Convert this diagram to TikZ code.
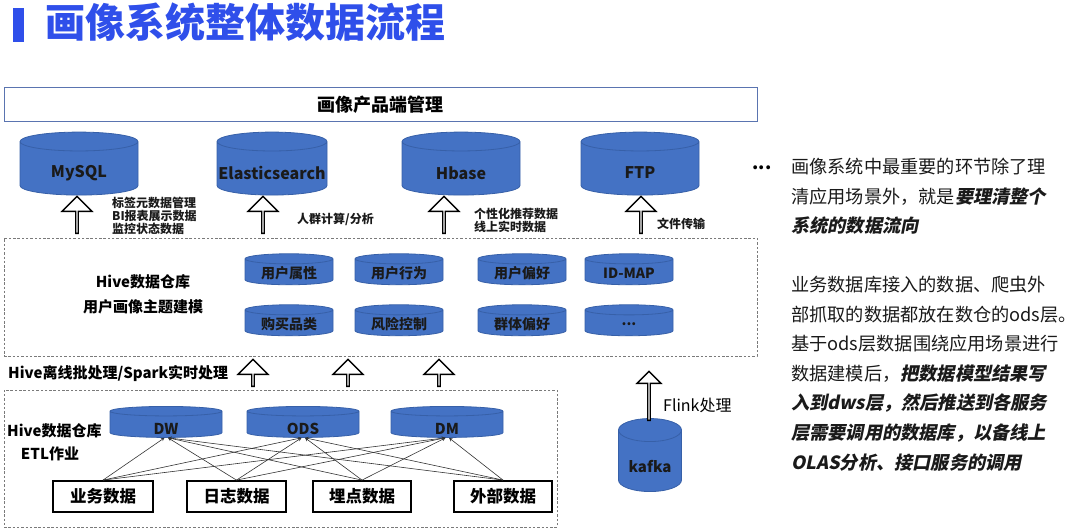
\documentclass[tikz,border=0pt]{standalone}
\usepackage{fontspec}
\setmainfont{Noto Sans CJK SC}
\newfontfamily\emfont{Noto Sans CJK SC}[FakeSlant=0.2]
\usepackage{tikz}
\usetikzlibrary{positioning,shapes.geometric,shapes.arrows}
\definecolor{PTitle}{HTML}{2F4FEA}
\definecolor{PCyl}{HTML}{4472C4}
\definecolor{PCylLine}{HTML}{3760A8}
\definecolor{PFrame}{HTML}{5A74B0}
\definecolor{PDash}{HTML}{7A7A7A}
\definecolor{PText}{HTML}{1A1A1A}
\newcommand{\keytxt}[1]{{\emfont\bfseries #1}}

\begin{document}
\begin{tikzpicture}[x=1pt,y=-1pt,>=stealth]
  \tikzstyle{dbcyl}=[cylinder,shape border rotate=90,draw=PCylLine,line width=0.8pt,fill=PCyl,inner sep=0pt]
  \tikzstyle{toplbl}=[yshift=-4.5pt,inner sep=0pt,text=PText,font=\bfseries\fontsize{16}{18}\selectfont]
  \tikzstyle{smalllbl}=[yshift=-1.5pt,inner sep=0pt,text=PText,font=\bfseries\fontsize{14}{16}\selectfont]
  \tikzstyle{etllbl}=[yshift=-4.5pt,inner sep=0pt,text=PText,font=\bfseries\fontsize{15}{17}\selectfont]
  \tikzstyle{topcyl}=[dbcyl,text width=118pt,minimum height=63pt,aspect=0.16]
  \tikzstyle{smallcyl}=[dbcyl,text width=88pt,minimum height=31pt,aspect=0.115]
  \tikzstyle{etlcyl}=[dbcyl,text width=112pt,minimum height=31pt,aspect=0.085]
  \tikzstyle{hollow}=[single arrow,shape border rotate=90,draw=black,line width=1.4pt,fill=white,
    inner sep=0pt,single arrow head indent=0pt]
  \tikzstyle{dashbox}=[draw=PDash,line width=0.9pt,dash pattern=on 2.5pt off 1.8pt]
  \tikzstyle{srcbox}=[draw=black,line width=1.8pt,minimum height=31pt,
    font=\bfseries\fontsize{16.5}{18}\selectfont]
  \tikzstyle{note}=[inner sep=0pt,align=left,text=PText]
  \tikzstyle{link}=[->,line width=0.6pt,draw=black!80]
  \useasboundingbox (0,0) rectangle (1080,532);
  \fill[PTitle] (13,8) rectangle (24,42);
  \node[anchor=west,inner sep=0pt,text=PTitle,font=\bfseries\fontsize{40}{44}\selectfont] (title) at (45,22) {画像系统整体数据流程};
  \node[draw=PFrame,line width=1pt,minimum width=753pt,minimum height=34pt,inner sep=0pt,
    font=\bfseries\fontsize{18}{20}\selectfont] (mgmt) at (380.5,105) {画像产品端管理};
  \node[topcyl,label={[toplbl]center:MySQL}] (mysql) at (79,168.5) {};
  \node[topcyl,text width=110pt,aspect=0.172,label={[toplbl]center:Elasticsearch}] (es) at (272,168.5) {};
  \node[topcyl,label={[toplbl]center:Hbase}] (hbase) at (461,168.5) {};
  \node[topcyl,label={[toplbl]center:FTP}] (ftp) at (640,168.5) {};
  \node[font=\bfseries\fontsize{18}{20}\selectfont,inner sep=0pt] (more) at (762,168) {...};
  \node[hollow,minimum height=37pt,minimum width=30pt,single arrow head extend=7.5pt] (up1) at (77,215.5) {};
  \node[hollow,minimum height=37pt,minimum width=30pt,single arrow head extend=7.5pt] (up2) at (263,215.5) {};
  \node[hollow,minimum height=37pt,minimum width=30pt,single arrow head extend=7.5pt] (up3) at (444,215.5) {};
  \node[hollow,minimum height=37pt,minimum width=30pt,single arrow head extend=7.5pt] (up4) at (641,215.5) {};
  \node[note,anchor=west,font=\bfseries\fontsize{12}{13}\selectfont] (mysqlnote) at (112,216) {标签元数据管理\\BI报表展示数据\\监控状态数据};
  \node[note,anchor=west,font=\bfseries\fontsize{12}{13}\selectfont] (esnote) at (297,219) {人群计算/分析};
  \node[note,anchor=west,font=\bfseries\fontsize{12}{13}\selectfont] (hbasenote) at (474,220) {个性化推荐数据\\线上实时数据};
  \node[note,anchor=west,font=\bfseries\fontsize{12}{13}\selectfont] (ftpnote) at (657,224) {文件传输};
  \node[dashbox,minimum width=753pt,minimum height=118pt] (hivebox) at (380.5,297) {};
  \node[font=\bfseries\fontsize{15}{17}\selectfont,inner sep=0pt] (hivetxt) at (143,282) {Hive数据仓库};
  \node[font=\bfseries\fontsize{15}{17}\selectfont,inner sep=0pt] (modeltxt) at (143,307) {用户画像主题建模};
  \node[smallcyl,label={[smalllbl]center:用户属性}] (attr) at (289,272) {};
  \node[smallcyl,label={[smalllbl]center:用户行为}] (act) at (399,272) {};
  \node[smallcyl,label={[smalllbl]center:用户偏好}] (pref) at (522,272) {};
  \node[smallcyl,label={[smalllbl]center:ID-MAP}] (idmap) at (629,272) {};
  \node[smallcyl,label={[smalllbl]center:购买品类}] (buy) at (289,323) {};
  \node[smallcyl,label={[smalllbl]center:风险控制}] (risk) at (399,323) {};
  \node[smallcyl,label={[smalllbl]center:群体偏好}] (group) at (522,323) {};
  \node[smallcyl,label={[smalllbl]center:...}] (etc) at (629,323) {};
  \node[anchor=west,inner sep=0pt,font=\bfseries\fontsize{15}{17}\selectfont] (proc) at (8,374) {Hive离线批处理/Spark实时处理};
  \node[hollow,minimum height=27pt,minimum width=30pt,single arrow head extend=7.5pt] (mid1) at (253,373.5) {};
  \node[hollow,minimum height=27pt,minimum width=30pt,single arrow head extend=7.5pt] (mid2) at (348,373.5) {};
  \node[hollow,minimum height=27pt,minimum width=30pt,single arrow head extend=7.5pt] (mid3) at (439,373.5) {};
  \node[dashbox,minimum width=553pt,minimum height=137pt] (etlbox) at (280.5,458.5) {};
  \node[anchor=west,inner sep=0pt,font=\bfseries\fontsize{15}{17}\selectfont] (hive2) at (7,431) {Hive数据仓库};
  \node[inner sep=0pt,font=\bfseries\fontsize{15}{17}\selectfont] (etl) at (50,454) {ETL作业};
  \node[etlcyl,label={[etllbl]center:DW}] (dw) at (166,424.5) {};
  \node[etlcyl,label={[etllbl]center:ODS}] (ods) at (303,424.5) {};
  \node[etlcyl,label={[etllbl]center:DM}] (dm) at (447,424.5) {};
  \node[srcbox,minimum width=100pt] (biz) at (103,496.5) {业务数据};
  \node[srcbox,minimum width=99pt] (log) at (236.5,496.5) {日志数据};
  \node[srcbox,minimum width=98pt] (track) at (362,496.5) {埋点数据};
  \node[srcbox,minimum width=98pt] (ext) at (503,496.5) {外部数据};
  \draw[link] (biz.north) -- ([xshift=-1.5pt]dw.south);
  \draw[link] (biz.north) -- ([xshift=-1.5pt]ods.south);
  \draw[link] (biz.north) -- ([xshift=-1.5pt]dm.south);
  \draw[link] (log.north) -- ([xshift=2pt]dw.south);
  \draw[link] (log.north) -- ([xshift=-1.5pt]ods.south);
  \draw[link] (log.north) -- ([xshift=-1.5pt]dm.south);
  \draw[link] (track.north) -- ([xshift=2pt]dw.south);
  \draw[link] (track.north) -- ([xshift=2pt]ods.south);
  \draw[link] (track.north) -- ([xshift=-1.5pt]dm.south);
  \draw[link] (ext.north) -- ([xshift=2pt]dw.south);
  \draw[link] (ext.north) -- ([xshift=2pt]ods.south);
  \draw[link] (ext.north) -- ([xshift=2pt]dm.south);
  \node[dbcyl,text width=63pt,minimum height=73pt,aspect=0.365,
    label={[etllbl,yshift=-1.5pt]center:kafka}] (kafka) at (650,461) {};
  \node[hollow,minimum height=49pt,minimum width=24pt,single arrow head extend=6pt] (flink) at (649,396.5) {};
  \node[anchor=west,inner sep=0pt,font=\fontsize{16}{18}\selectfont] (flinktxt) at (663,405) {Flink处理};
  \node[note,anchor=north west,font=\fontsize{18.2}{29.6}\selectfont] (note1) at (791,158)
    {画像系统中最重要的环节除了理\\清应用场景外，就是\keytxt{要理清整个}\\\keytxt{系统的数据流向}};
  \node[note,anchor=north west,font=\fontsize{18.2}{29.6}\selectfont] (note2) at (791,276)
    {业务数据库接入的数据、爬虫外\\部抓取的数据都放在数仓的ods层\makebox[0.45em][l]{。}\\基于ods层数据围绕应用场景进行\\数据建模后，\keytxt{把数据模型结果写}\\\keytxt{入到dws层，然后推送到各服务}\\\keytxt{层需要调用的数据库，以备线上}\\\keytxt{OLAS分析、接口服务的调用}};
\end{tikzpicture}
\end{document}
